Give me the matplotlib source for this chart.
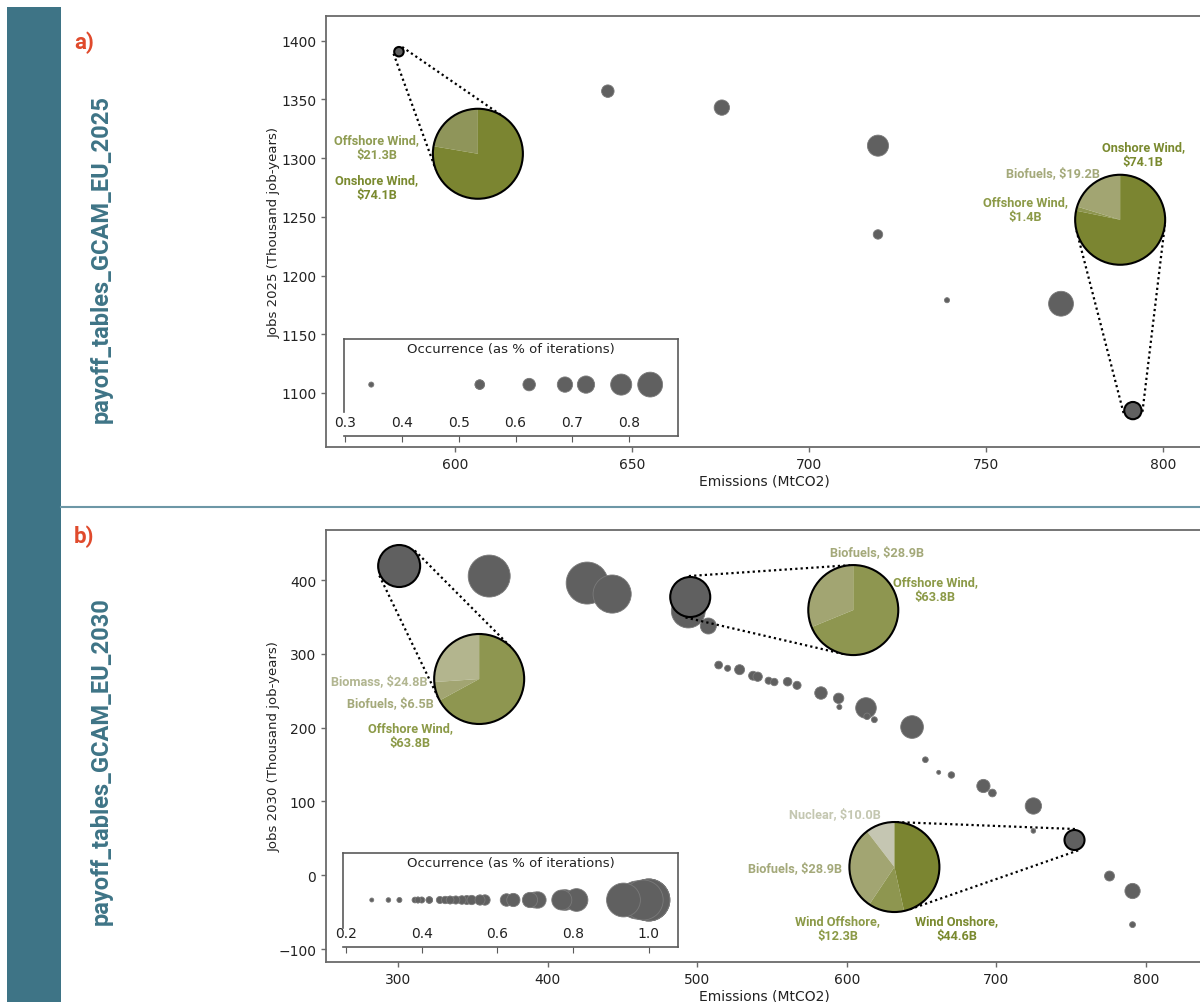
import numpy as np
import matplotlib.pyplot as plt
from matplotlib.patches import Rectangle, Circle
from matplotlib.lines import Line2D

# scenario results, GCAM EU 2025
emis_2025 = [584.2, 643.2, 675.4, 719.5, 719.5, 739.0, 771.2, 791.5]
jobs_2025 = [1390.6, 1357.0, 1343.0, 1310.6, 1235.0, 1179.0, 1176.0, 1085.0]
occ_2025 = [0.537, 0.624, 0.687, 0.786, 0.537, 0.346, 0.837, 0.724]

# scenario results, GCAM EU 2030
emis_2030 = [300.7, 360.9, 426.4, 443.1, 495.3, 494.0, 507.4,
             514.3, 520.3, 528.3, 537.3, 540.4, 547.7, 551.5, 560.4, 566.7,
             582.7, 594.5, 595.0, 612.8, 613.5, 618.4, 643.6, 652.5, 661.4,
             669.9, 691.3, 697.3, 724.7, 724.7, 752.2, 775.6, 791.0, 791.0]
jobs_2030 = [419.0, 405.4, 395.9, 381.0, 377.0, 358.0, 337.7,
             284.8, 280.4, 278.5, 270.3, 269.0, 263.6, 261.8, 262.2, 257.3,
             246.9, 239.7, 227.9, 226.6, 215.3, 210.7, 200.8, 156.5, 139.4,
             135.8, 120.9, 111.4, 93.8, 60.0, 47.7, -1.1, -21.4, -67.0]
occ_2030 = [1.0, 1.0, 1.0, 0.97, 0.985, 0.933, 0.70,
            0.475, 0.40, 0.554, 0.519, 0.532, 0.448, 0.462, 0.506, 0.49,
            0.624, 0.567, 0.341, 0.779, 0.42, 0.39, 0.809, 0.382, 0.268,
            0.42, 0.642, 0.475, 0.707, 0.312, 0.77, 0.554, 0.686, 0.39]

# investment mix (billion $) of the highlighted portfolios
pie_a1_labels = ["Offshore Wind", "Onshore Wind"]
pie_a1_values = [21.3, 74.1]
pie_a2_labels = ["Biofuels", "Offshore Wind", "Onshore Wind"]
pie_a2_values = [19.2, 1.4, 74.1]
pie_b1_labels = ["Biomass", "Biofuels", "Offshore Wind"]
pie_b1_values = [24.8, 6.5, 63.8]
pie_b2_labels = ["Biofuels", "Offshore Wind"]
pie_b2_values = [28.9, 63.8]
pie_b3_labels = ["Nuclear", "Biofuels", "Wind Offshore", "Wind Onshore"]
pie_b3_values = [10.0, 28.9, 12.3, 44.6]

W, H = 1200, 1003
TEAL = "#3e7486"
RED = "#e04a2c"
GRAY = "#606060"
LBL_FONT = "Roboto"

fig = plt.figure(figsize=(W / 100, H / 100), dpi=100)


def px_box(x0, y0, x1, y1):
    # pixel box (top-left origin) -> figure fraction rect
    return [x0 / W, 1 - y1 / H, (x1 - x0) / W, (y1 - y0) / H]


def radius_px(o):
    return 21.0 * np.exp(3.22 * (np.asarray(o) - 1.0))


def marker_area(o):
    return (2 * radius_px(o) * 0.72) ** 2


# side bar and divider
fig.add_artist(Rectangle((7 / W, 0), 54 / W, 1 - 8 / H, transform=fig.transFigure,
                         color=TEAL, lw=0))
fig.add_artist(Line2D([61 / W, 1], [1 - 508 / H] * 2, transform=fig.transFigure,
                      color="#6d97a6", lw=1.5))
fig.text(84 / W, 1 - 43 / H, "a)", color=RED, fontsize=16, fontweight="bold",
         family=LBL_FONT, ha="center", va="center")
fig.text(84 / W, 1 - 537 / H, "b)", color=RED, fontsize=16, fontweight="bold",
         family=LBL_FONT, ha="center", va="center")
fig.text(101 / W, 1 - 259 / H, "payoff_tables_GCAM_EU_2025", rotation=90, color=TEAL,
         fontsize=17, fontweight="bold", family=LBL_FONT, ha="center", va="center")
fig.text(101 / W, 1 - 761 / H, "payoff_tables_GCAM_EU_2030", rotation=90, color=TEAL,
         fontsize=17, fontweight="bold", family=LBL_FONT, ha="center", va="center")

WEDGE = {"dark": "#7b8531", "mid": "#8e9650", "pale_off": "#8f955a",
         "bio": "#a2a572", "biomass": "#b3b58e", "nuc": "#c5c6b2"}
TXT = {"dark": "#7a8a2f", "mid": "#8c9a48", "pale_off": "#8f9c52",
       "bio": "#a4a97a", "biomass": "#b2b691", "nuc": "#c4c7b1"}


def setup_main(ax, xlim, ylim, xticks, yticks, ylabel):
    ax.set_xlim(xlim)
    ax.set_ylim(ylim)
    ax.set_xticks(xticks)
    ax.set_yticks(yticks)
    ax.spines["right"].set_visible(False)
    for s in ("left", "top", "bottom"):
        ax.spines[s].set_color("#6a6a6a")
        ax.spines[s].set_linewidth(1.3)
    ax.tick_params(length=3.5, width=1, color="#6a6a6a", labelsize=10, labelcolor="#222222")
    ax.set_xlabel("Emissions (MtCO2)", fontsize=10, color="#222222", labelpad=2)
    ax.set_ylabel(ylabel, fontsize=9.5, color="#222222")
    ax.yaxis.set_label_coords(-0.052, 0.5)


def scatter_points(ax, x, y, occ, highlight):
    x, y, occ = map(np.asarray, (x, y, occ))
    rest = [i for i in range(len(x)) if i not in highlight]
    ax.scatter(x[rest], y[rest], s=marker_area(occ[rest]), color=GRAY, lw=0.6,
               edgecolor="#7a7a7a", zorder=2)
    ax.scatter(x[highlight], y[highlight], s=marker_area(occ[highlight]), color=GRAY,
               edgecolor="black", lw=1.5, zorder=3)


def draw_pie(ax, anchor, anchor_occ, center, labels, values, keys, label_pos, r=45):
    cx, cy = ax.transData.transform(center)
    pad = 1.06
    pax = fig.add_axes([(cx - r * pad) / W, (cy - r * pad) / H, 2 * r * pad / W,
                        2 * r * pad / H], zorder=4)
    pax.pie(values, colors=[WEDGE[k] for k in keys], startangle=90, counterclock=True,
            radius=1, wedgeprops=dict(linewidth=0))
    pax.add_patch(Circle((0, 0), 1, fill=False, ec="black", lw=1.5))
    pax.set_xlim(-pad, pad)
    pax.set_ylim(-pad, pad)
    pax.set_aspect("equal")
    pax.axis("off")

    # dotted tangents from the highlighted point to the pie
    ax_, ay_ = ax.transData.transform(anchor)
    r1 = float(radius_px(anchor_occ)) + 1
    dx, dy = cx - ax_, cy - ay_
    L = np.hypot(dx, dy)
    th = np.arctan2(dy, dx)
    a = np.arccos((r1 - r) / L)
    for sgn in (1, -1):
        ang = th + sgn * a
        p1 = (ax_ + r1 * np.cos(ang), ay_ + r1 * np.sin(ang))
        p2 = (cx + r * np.cos(ang), cy + r * np.sin(ang))
        fig.add_artist(Line2D([p1[0] / W, p2[0] / W], [p1[1] / H, p2[1] / H],
                              transform=fig.transFigure, color="black", lw=1.6,
                              linestyle=(0, (1, 1.4)), zorder=2.5))

    for lab, val, k, (ox, oy, brk) in zip(labels, values, keys, label_pos):
        txt = f"{lab},\n\\${val:.1f}B" if brk else f"{lab}, \\${val:.1f}B"
        fig.text((cx + ox) / W, (cy - oy) / H, txt, color=TXT[k], fontsize=9.2,
                 fontweight="bold", family=LBL_FONT, ha="center", va="center",
                 linespacing=1.2)


def draw_legend(box, xlim, xticks, occ, dot_y, spine_low):
    lax = fig.add_axes(px_box(*box), zorder=3)
    lax.scatter(occ, [dot_y] * len(occ), s=marker_area(occ), color=GRAY, lw=0.6,
                edgecolor="#7a7a7a", clip_on=False)
    lax.set_xlim(xlim)
    lax.set_ylim(0, 1)
    lax.set_yticks([])
    lax.set_xticks(xticks)
    lax.set_xticklabels([f"{t:.1f}" for t in xticks])
    for s in lax.spines.values():
        s.set_color("#5a5a5a")
        s.set_linewidth(1.2)
    lax.spines["left"].set_bounds(spine_low, 1)
    lax.tick_params(axis="x", direction="out", length=4, color="#5a5a5a",
                    labelsize=10, labelcolor="#222222", pad=-19)
    lax.text(0.5, 0.9, "Occurrence (as % of iterations)", transform=lax.transAxes,
             ha="center", va="center", fontsize=9.5, color="#222222")
    lax.patch.set_alpha(0)


# panel a
ax1 = fig.add_axes(px_box(326, 17, 1203, 448))
setup_main(ax1, (563.6, 811.3), (1054, 1421), [600, 650, 700, 750, 800],
           range(1100, 1401, 50), "Jobs 2025 (Thousand job-years)")
scatter_points(ax1, emis_2025, jobs_2025, occ_2025, [0, 7])
draw_legend((344, 340, 678, 437), (0.298, 0.886), [0.3, 0.4, 0.5, 0.6, 0.7, 0.8],
            occ_2025, 0.53, 0.25)

# panel b
ax2 = fig.add_axes(px_box(326, 531, 1203, 963))
setup_main(ax2, (251.8, 838.1), (-117.6, 467.8), range(300, 801, 100),
           range(-100, 401, 100), "Jobs 2030 (Thousand job-years)")
scatter_points(ax2, emis_2030, jobs_2030, occ_2030, [0, 4, 30])
draw_legend((343, 854, 678, 948), (0.192, 1.077), [0.2, 0.4, 0.6, 0.8, 1.0],
            occ_2030, 0.5, 0.2)

draw_pie(ax1, (emis_2025[0], jobs_2025[0]), occ_2025[0], (606.5, 1303.7),
         pie_a1_labels, pie_a1_values, ["pale_off", "dark"],
         [(-101, -7, True), (-101, 33, True)])
draw_pie(ax1, (emis_2025[7], jobs_2025[7]), occ_2025[7], (787.9, 1247.5),
         pie_a2_labels, pie_a2_values, ["bio", "mid", "dark"],
         [(-67, -47, False), (-95, -11, True), (23, -66, True)])
draw_pie(ax2, (emis_2030[0], jobs_2030[0]), occ_2030[0], (354.2, 265.9),
         pie_b1_labels, pie_b1_values, ["biomass", "bio", "mid"],
         [(-100, 2, False), (-89, 24, False), (-69, 56, True)])
draw_pie(ax2, (emis_2030[4], jobs_2030[4]), occ_2030[4], (604.3, 359.3),
         pie_b2_labels, pie_b2_values, ["bio", "mid"],
         [(24, -58, False), (82, -21, True)])
draw_pie(ax2, (emis_2030[30], jobs_2030[30]), occ_2030[30], (631.8, 11.1),
         pie_b3_labels, pie_b3_values, ["nuc", "bio", "mid", "dark"],
         [(-60, -53, False), (-99, 1, False), (-57, 61, True), (62, 61, True)])

fig.savefig("out.png", dpi=100)
